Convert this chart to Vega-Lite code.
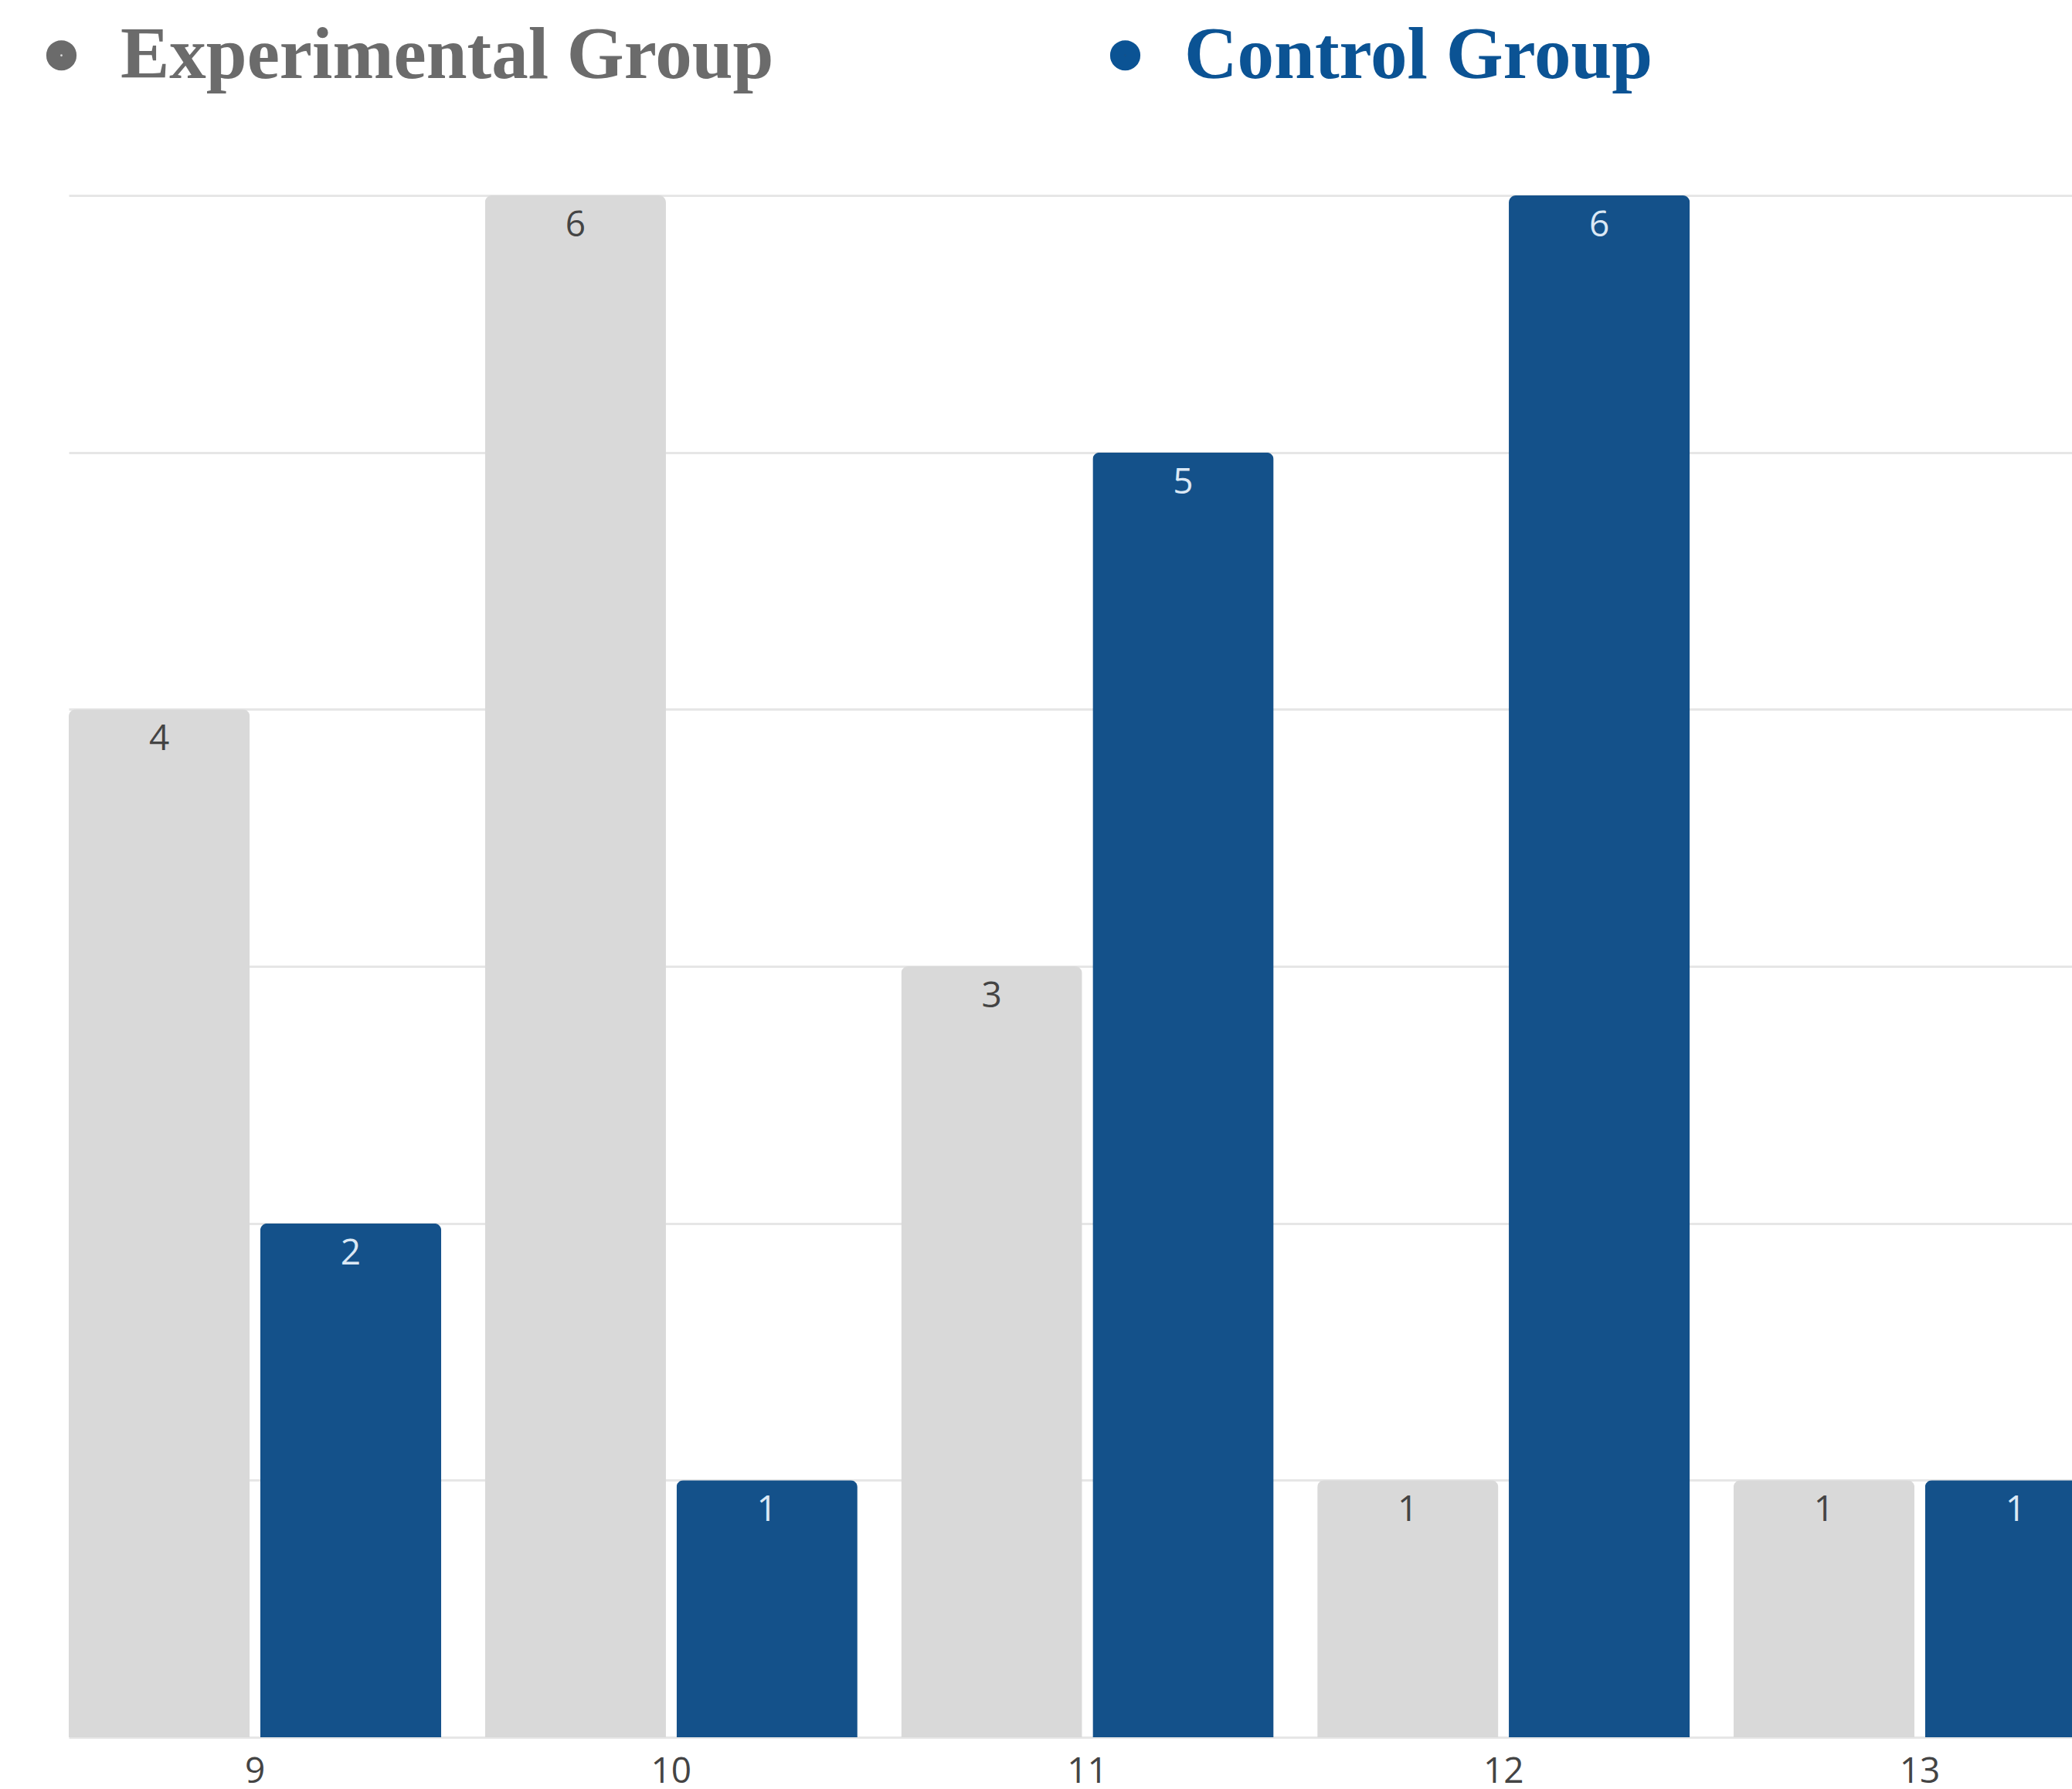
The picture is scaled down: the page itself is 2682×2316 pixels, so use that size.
{
  "$schema": "https://vega.github.io/schema/vega-lite/v6.json",
  "autosize": {"type": "none"},
  "padding": {"left": 89, "top": 253, "right": 0, "bottom": 67},
  "width": 2593,
  "height": 1996,
  "background": "white",
  "data": {
    "values": [
      {"age": "9", "group": "Experimental Group", "count": 4},
      {"age": "9", "group": "Control Group", "count": 2},
      {"age": "10", "group": "Experimental Group", "count": 6},
      {"age": "10", "group": "Control Group", "count": 1},
      {"age": "11", "group": "Experimental Group", "count": 3},
      {"age": "11", "group": "Control Group", "count": 5},
      {"age": "12", "group": "Experimental Group", "count": 1},
      {"age": "12", "group": "Control Group", "count": 6},
      {"age": "13", "group": "Experimental Group", "count": 1},
      {"age": "13", "group": "Control Group", "count": 1}
    ]
  },
  "encoding": {
    "x": {
      "field": "age",
      "type": "ordinal",
      "sort": ["9", "10", "11", "12", "13"],
      "scale": {"range": [0, 2637], "paddingInner": 0.105, "paddingOuter": 0},
      "axis": {
        "title": null,
        "labelAngle": 0,
        "ticks": false,
        "domain": false,
        "labelFont": "Open Sans",
        "labelFontSize": 46,
        "labelColor": "#444444",
        "labelPadding": 22
      }
    },
    "xOffset": {
      "field": "group",
      "sort": ["Experimental Group", "Control Group"],
      "scale": {"paddingInner": 0.055, "paddingOuter": 0}
    },
    "y": {
      "field": "count",
      "type": "quantitative",
      "scale": {"domain": [0, 6], "nice": false},
      "axis": {
        "title": null,
        "labels": false,
        "ticks": false,
        "domain": false,
        "values": [0, 1, 2, 3, 4, 5, 6],
        "gridColor": "#e6e6e6",
        "gridWidth": 3
      }
    }
  },
  "layer": [
    {
      "mark": {"type": "bar", "cornerRadiusEnd": 9},
      "encoding": {
        "color": {
          "field": "group",
          "type": "nominal",
          "scale": {
            "domain": ["Experimental Group", "Control Group"],
            "range": ["#d9d9d9", "#14518a"]
          },
          "legend": {
            "title": null,
            "orient": "none",
            "legendX": -57,
            "legendY": -229,
            "direction": "horizontal",
            "columns": 2,
            "columnPadding": 403,
            "symbolType": "circle",
            "symbolSize": 330,
            "symbolStrokeWidth": 21,
            "labelFont": "Liberation Serif",
            "labelFontWeight": "bold",
            "labelFontSize": 95,
            "labelOffset": 29,
            "labelLimit": 2000,
            "encode": {
              "symbols": {
                "update": {
                  "stroke": {"signal": "datum.value === 'Control Group' ? '#0b5394' : '#6b6b6b'"},
                  "fill": {"signal": "datum.value === 'Control Group' ? '#0b5394' : '#6b6b6b'"}
                }
              },
              "labels": {
                "update": {
                  "fill": {"signal": "datum.value === 'Control Group' ? '#0b5394' : '#6b6b6b'"}
                }
              }
            }
          }
        }
      }
    },
    {
      "mark": {
        "type": "text",
        "baseline": "middle",
        "dy": 39,
        "font": "Open Sans",
        "fontSize": 46
      },
      "encoding": {
        "text": {"field": "count", "type": "quantitative"},
        "color": {
          "condition": {"test": "datum.group === 'Control Group'", "value": "#dbe8f5"},
          "value": "#444444"
        }
      }
    }
  ],
  "config": {
    "view": {"stroke": null}
  }
}
